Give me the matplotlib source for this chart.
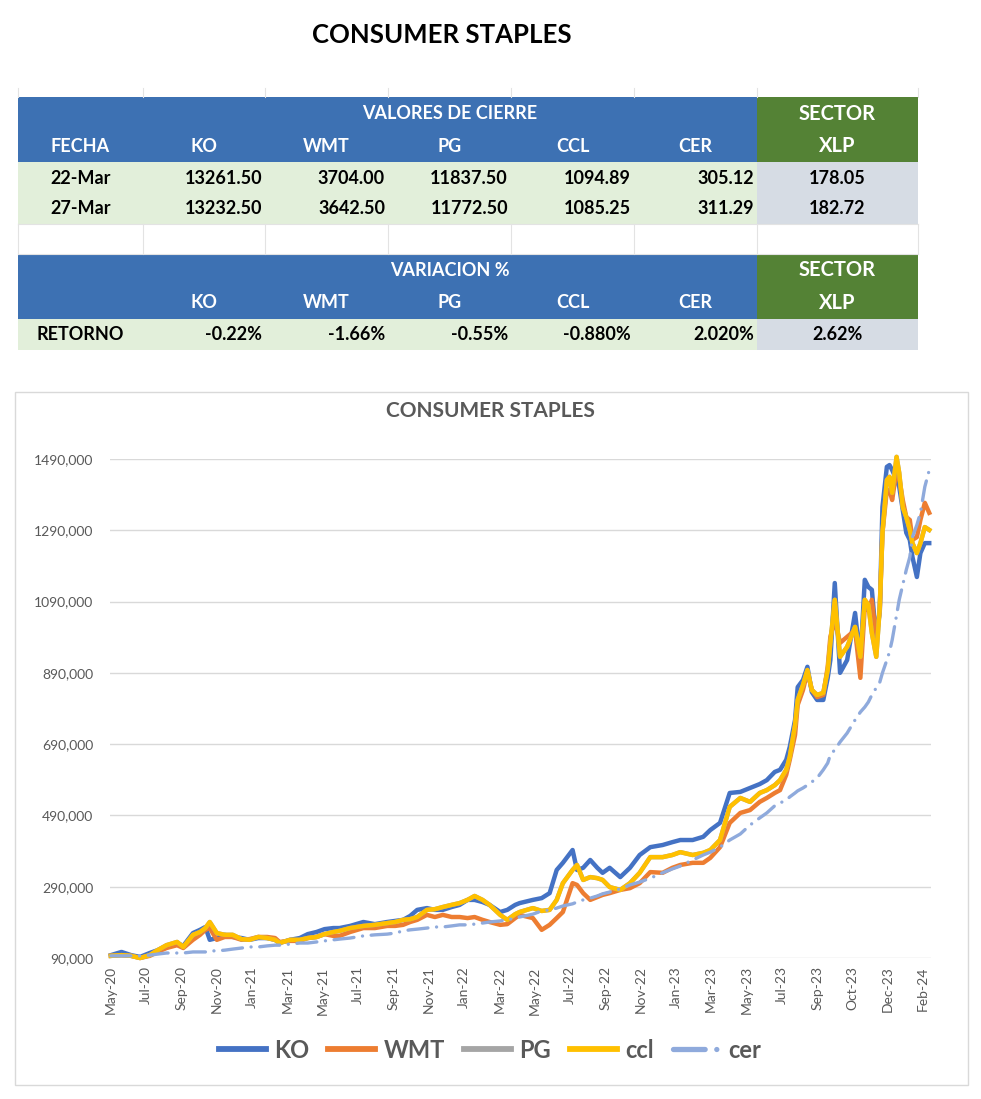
import numpy as np
import matplotlib
matplotlib.use("Agg")
from matplotlib import pyplot as plt
from matplotlib.patches import Rectangle
from matplotlib.lines import Line2D

plt.rcParams['font.family'] = ['Lato', 'DejaVu Sans']

# ---- table data ----
head_cols = ["FECHA", "KO", "WMT", "PG", "CCL", "CER"]
var_cols = ["", "KO", "WMT", "PG", "CCL", "CER"]
fechas = ["22-Mar", "27-Mar"]
cierre = [["13261.50", "3704.00", "11837.50", "1094.89", "305.12"],
          ["13232.50", "3642.50", "11772.50", "1085.25", "311.29"]]
xlp_cierre = ["178.05", "182.72"]
retorno = ["-0.22%", "-1.66%", "-0.55%", "-0.880%", "2.020%"]
xlp_retorno = "2.62%"

# ---- chart data (values in thousands) ----
x_labels = ['May-20', 'Jul-20', 'Sep-20', 'Nov-20', 'Jan-21', 'Mar-21', 'May-21', 'Jul-21',
            'Sep-21', 'Nov-21', 'Jan-22', 'Mar-22', 'May-22', 'Jul-22', 'Sep-22', 'Nov-22',
            'Jan-23', 'Mar-23', 'May-23', 'Jul-23', 'Sep-23', 'Oct-23', 'Dec-23', 'Feb-24']
label_step = 40  # one label every 40 observations

obs = [0, 12, 23, 33, 44, 53, 63, 75, 82, 93,
       101, 107, 112, 120, 129, 138, 148, 157, 167, 177,
       186, 191, 203, 214, 223, 233, 242, 252, 259, 271,
       286, 299, 313, 322, 331, 339, 347, 358, 367, 376,
       386, 395, 404, 412, 421, 429, 441, 449, 458, 463,
       478, 488, 497, 505, 512, 523, 528, 535, 543, 551,
       557, 565, 577, 588, 599, 611, 625, 636, 645, 659,
       671, 679, 690, 701, 713, 724, 735, 743, 752, 758,
       765, 769, 775, 778, 784, 789, 794, 800, 807, 812,
       815, 820, 826, 834, 843, 849, 854, 858, 862, 867,
       871, 874, 879, 882, 885, 890, 893, 897, 901, 905,
       908, 913, 917, 922, 927]

ko = [98, 107, 98, 93, 104, 112, 124, 132, 124, 160,
      169, 177, 141, 146, 155, 149, 146, 141, 146, 146,
      141, 132, 141, 146, 157, 163, 171, 174, 174, 180,
      191, 185, 191, 194, 197, 208, 225, 230, 225, 225,
      233, 239, 253, 253, 247, 239, 219, 225, 239, 244,
      253, 258, 272, 337, 357, 393, 337, 343, 365, 343,
      329, 343, 317, 343, 379, 401, 407, 415, 421, 421,
      430, 449, 469, 553, 556, 567, 578, 589, 612, 618,
      646, 682, 758, 850, 870, 907, 836, 814, 814, 876,
      926, 1142, 890, 926, 1058, 926, 1151, 1131, 1123, 982,
      1066, 1355, 1468, 1473, 1459, 1431, 1412, 1347, 1283, 1263,
      1215, 1159, 1226, 1254, 1254]

wmt = [96, 98, 96, 90, 96, 107, 118, 126, 118, 141,
       155, 169, 174, 141, 149, 149, 141, 143, 149, 149,
       146, 135, 138, 138, 146, 149, 157, 152, 152, 163,
       174, 174, 180, 180, 183, 191, 197, 211, 205, 211,
       205, 205, 202, 205, 197, 191, 183, 185, 202, 211,
       202, 169, 183, 202, 219, 300, 295, 272, 253, 261,
       267, 272, 281, 286, 300, 331, 329, 343, 351, 357,
       357, 371, 401, 469, 497, 505, 528, 539, 553, 561,
       604, 646, 716, 800, 842, 893, 842, 822, 828, 907,
       991, 1038, 974, 991, 1010, 876, 1075, 1066, 1095, 982,
       1066, 1283, 1403, 1403, 1375, 1459, 1437, 1375, 1327, 1319,
       1263, 1271, 1319, 1367, 1339]

ccl = [96, 98, 96, 90, 98, 112, 126, 135, 121, 155,
       163, 174, 191, 160, 155, 155, 143, 141, 149, 146,
       141, 132, 141, 141, 146, 149, 157, 163, 166, 174,
       180, 183, 188, 191, 197, 199, 205, 225, 227, 233,
       239, 244, 253, 264, 253, 239, 211, 197, 213, 219,
       230, 222, 225, 253, 300, 337, 351, 309, 317, 314,
       309, 289, 281, 300, 329, 373, 373, 379, 387, 379,
       385, 393, 421, 514, 539, 528, 553, 561, 575, 589,
       618, 654, 744, 814, 856, 898, 842, 828, 834, 898,
       974, 1095, 935, 963, 1019, 935, 1095, 1081, 1002, 935,
       1075, 1283, 1431, 1440, 1395, 1496, 1451, 1355, 1327, 1291,
       1254, 1226, 1254, 1299, 1291]

# PG is hidden under ccl in the picture
pg = list(ccl)

cer = [96, 96, 96, 96, 98, 101, 104, 104, 104, 107,
       107, 107, 110, 110, 112, 115, 118, 121, 121, 124,
       126, 126, 129, 132, 132, 135, 138, 141, 143, 146,
       152, 155, 157, 160, 166, 169, 171, 174, 177, 177,
       180, 183, 183, 185, 188, 191, 194, 197, 202, 205,
       213, 222, 225, 230, 236, 242, 247, 253, 258, 264,
       270, 275, 284, 295, 303, 314, 329, 340, 348, 365,
       379, 387, 401, 421, 438, 463, 483, 497, 517, 525,
       533, 542, 553, 559, 567, 575, 584, 595, 618, 637,
       660, 674, 696, 721, 758, 780, 794, 808, 828, 848,
       864, 890, 926, 949, 982, 1052, 1095, 1137, 1179, 1215,
       1271, 1305, 1339, 1412, 1459]

y_ticks = [90000, 290000, 490000, 690000, 890000, 1090000, 1290000, 1490000]
y_tick_labels = ['90,000', '290,000', '490,000', '690,000', '890,000',
                 '1090,000', '1290,000', '1490,000']

series = [("KO", ko, '#4472C4'), ("WMT", wmt, '#ED7D31'), ("PG", pg, '#A5A5A5'),
          ("ccl", ccl, '#FFC000')]

BLUE = '#3D71B3'
GREEN = '#548235'
LIGHT = '#E2EFDA'
GRAYC = '#D6DCE4'
TXT = '#595959'

fig = plt.figure(figsize=(9.81, 10.99), dpi=100)

# overlay in pixel coordinates for the title, table and chart frame
bg = fig.add_axes([0, 0, 1, 1], zorder=0)
bg.set_xlim(0, 981)
bg.set_ylim(1099, 0)
bg.axis('off')

bg.text(442, 35, "CONSUMER STAPLES", ha='center', va='center', fontsize=18.5, fontweight='bold')

col_edges = [18, 143, 265, 388, 511, 634, 757, 918]
row_edges = [97, 130, 162, 194, 224, 254, 287, 319, 350]


def cell(c0, c1, r0, r1, color):
    bg.add_patch(Rectangle((col_edges[c0], row_edges[r0]), col_edges[c1] - col_edges[c0],
                           row_edges[r1] - row_edges[r0], facecolor=color, lw=0))


def mid(r):
    return (row_edges[r] + row_edges[r + 1]) / 2


# faint sheet gridlines
for xe in col_edges:
    bg.plot([xe, xe], [88, 97], color='#E3E3E3', lw=0.8)
    bg.plot([xe, xe], [224, 254], color='#E3E3E3', lw=0.8)
for ye in [224, 254]:
    bg.plot([18, 918], [ye, ye], color='#E3E3E3', lw=0.8)

# cell backgrounds
cell(0, 6, 0, 2, BLUE)
cell(6, 7, 0, 2, GREEN)
cell(0, 6, 2, 4, LIGHT)
cell(6, 7, 2, 4, GRAYC)
cell(0, 6, 5, 7, BLUE)
cell(6, 7, 5, 7, GREEN)
cell(0, 6, 7, 8, LIGHT)
cell(6, 7, 7, 8, GRAYC)

xlp_c = (col_edges[6] + col_edges[7]) / 2
span_c = (col_edges[1] + col_edges[6]) / 2

hdr = dict(color='white', fontweight='bold', va='center')
bg.text(span_c, mid(0), "VALORES DE CIERRE", ha='center', fontsize=13, **hdr)
bg.text(xlp_c, mid(0), "SECTOR", ha='center', fontsize=14.5, **hdr)
bg.text(xlp_c, mid(1), "XLP", ha='center', fontsize=14.5, **hdr)
for i, name in enumerate(head_cols):
    bg.text((col_edges[i] + col_edges[i + 1]) / 2, mid(1), name, ha='center', fontsize=13, **hdr)

dat = dict(color='black', fontweight='bold', va='center', fontsize=13)
for r, (f, vals, xv) in enumerate(zip(fechas, cierre, xlp_cierre)):
    row = 2 + r
    bg.text((col_edges[0] + col_edges[1]) / 2, mid(row), f, ha='center', **dat)
    for i, v in enumerate(vals):
        bg.text(col_edges[i + 2] - 3, mid(row), v, ha='right', **dat)
    bg.text(xlp_c, mid(row), xv, ha='center', **dat)

bg.text(span_c, mid(5), "VARIACION %", ha='center', fontsize=13, **hdr)
bg.text(xlp_c, mid(5), "SECTOR", ha='center', fontsize=14.5, **hdr)
bg.text(xlp_c, mid(6), "XLP", ha='center', fontsize=14.5, **hdr)
for i, name in enumerate(var_cols):
    if name:
        bg.text((col_edges[i] + col_edges[i + 1]) / 2, mid(6), name, ha='center', fontsize=13, **hdr)

bg.text((col_edges[0] + col_edges[1]) / 2, mid(7), "RETORNO", ha='center', **dat)
for i, v in enumerate(retorno):
    bg.text(col_edges[i + 2] - 3, mid(7), v, ha='right', **dat)
bg.text(xlp_c, mid(7), xlp_retorno, ha='center', **dat)

# chart frame and title
bg.add_patch(Rectangle((15, 392), 953, 693, fill=False, edgecolor='#D9D9D9', lw=1))
bg.text(490, 411, "CONSUMER STAPLES", ha='center', va='center', fontsize=15,
        fontweight='bold', color=TXT)

# ---- line chart ----
ax = fig.add_axes([110 / 981, 1 - 958 / 1099, 821 / 981, 499 / 1099], zorder=1)
ax.set_facecolor('none')

xs = np.array(obs)
for name, vals, col in series:
    ax.plot(xs, np.array(vals) * 1000, color=col, lw=3.2, label=name, clip_on=False,
            solid_joinstyle='round')
ax.plot(xs, np.array(cer) * 1000, color='#8FAADC', lw=2.4, label='cer', clip_on=False,
        dashes=(6.0, 2.6, 0.01, 2.6), dash_capstyle='round')

ax.set_xlim(-1, 929)
ax.set_ylim(90000, 1490000)
ax.set_yticks(y_ticks, y_tick_labels)
ax.set_xticks([i * label_step for i in range(len(x_labels))], x_labels, rotation=90)
ax.tick_params(axis='both', length=0, labelsize=10, labelcolor=TXT)
ax.tick_params(axis='y', pad=12)
ax.tick_params(axis='x', pad=6)
ax.yaxis.grid(True, color='#D9D9D9', lw=1)
ax.set_axisbelow(True)
for s in ax.spines.values():
    s.set_visible(False)

handles = [Line2D([], [], color=c, lw=4.2) for _, _, c in series]
handles.append(Line2D([], [], color='#8FAADC', lw=3.8, dashes=(6.0, 2.2, 0.01, 2.2),
                      dash_capstyle='round'))
labels = [n for n, _, _ in series] + ['cer']
fig.legend(handles, labels, loc='center', bbox_to_anchor=(0.4995, 1 - 1050 / 1099), ncol=5,
           frameon=False, prop={'size': 17, 'weight': 'bold'}, labelcolor=TXT,
           handlelength=2.0, columnspacing=0.8, handletextpad=0.35)

fig.savefig('out.png', dpi=100)
